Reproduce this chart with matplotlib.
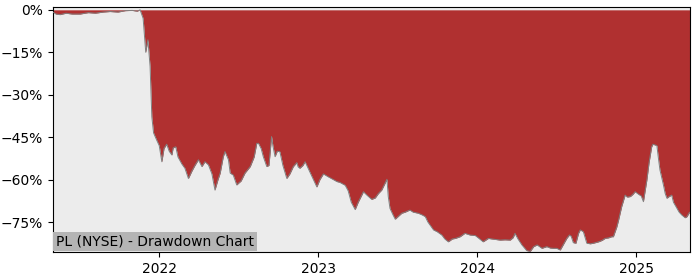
import matplotlib
matplotlib.use("Agg")
import matplotlib.pyplot as plt
import matplotlib.ticker as mticker
import pandas as pd

title_text = "PL (NYSE) - Drawdown Chart"

dates = [
    "2021-05-02", "2021-05-09", "2021-05-18", "2021-06-01", "2021-06-15", "2021-07-03",
    "2021-07-22", "2021-08-07", "2021-08-25", "2021-09-10", "2021-09-28", "2021-10-15",
    "2021-10-31", "2021-11-11", "2021-11-18", "2021-11-25", "2021-12-01", "2021-12-06",
    "2021-12-11", "2021-12-15", "2021-12-19", "2021-12-26", "2022-01-01", "2022-01-07",
    "2022-01-12", "2022-01-18", "2022-01-24", "2022-01-30", "2022-02-02", "2022-02-08",
    "2022-02-13", "2022-02-22", "2022-03-01", "2022-03-09", "2022-03-17", "2022-03-24",
    "2022-04-01", "2022-04-09", "2022-04-16", "2022-04-24", "2022-05-02", "2022-05-09",
    "2022-05-16", "2022-05-21", "2022-05-28", "2022-06-01", "2022-06-09", "2022-06-13",
    "2022-06-20", "2022-06-28", "2022-07-02", "2022-07-08", "2022-07-17", "2022-07-29",
    "2022-08-07", "2022-08-13", "2022-08-17", "2022-08-23", "2022-08-28", "2022-09-05",
    "2022-09-10", "2022-09-16", "2022-09-19", "2022-09-24", "2022-09-29", "2022-10-05",
    "2022-10-12", "2022-10-21", "2022-10-28", "2022-11-05", "2022-11-13", "2022-11-16",
    "2022-11-20", "2022-11-27", "2022-12-02", "2022-12-09", "2022-12-18", "2022-12-29",
    "2023-01-05", "2023-01-13", "2023-01-24", "2023-02-05", "2023-02-13", "2023-02-20",
    "2023-03-04", "2023-03-11", "2023-03-18", "2023-03-27", "2023-04-03", "2023-04-15",
    "2023-04-23", "2023-05-04", "2023-05-12", "2023-05-19", "2023-05-27", "2023-06-03",
    "2023-06-08", "2023-06-11", "2023-06-15", "2023-06-22", "2023-06-27", "2023-07-04",
    "2023-07-12", "2023-07-20", "2023-07-27", "2023-07-31", "2023-08-07", "2023-08-19",
    "2023-08-28", "2023-09-04", "2023-09-10", "2023-09-23", "2023-10-01", "2023-10-12",
    "2023-10-19", "2023-10-27", "2023-11-05", "2023-11-12", "2023-11-23", "2023-12-04",
    "2023-12-16", "2023-12-28", "2024-01-03", "2024-01-15", "2024-01-27", "2024-02-04",
    "2024-02-14", "2024-02-23", "2024-03-05", "2024-03-17", "2024-03-24", "2024-03-28",
    "2024-04-04", "2024-04-13", "2024-04-24", "2024-05-02", "2024-05-10", "2024-05-18",
    "2024-05-29", "2024-06-09", "2024-06-17", "2024-06-24", "2024-07-02", "2024-07-10",
    "2024-07-17", "2024-07-25", "2024-07-31", "2024-08-04", "2024-08-09", "2024-08-15",
    "2024-08-21", "2024-08-25", "2024-09-01", "2024-09-09", "2024-09-17", "2024-09-24",
    "2024-10-06", "2024-10-14", "2024-10-21", "2024-10-29", "2024-11-05", "2024-11-09",
    "2024-11-17", "2024-11-21", "2024-11-28", "2024-12-06", "2024-12-11", "2024-12-18",
    "2024-12-24", "2024-12-29", "2025-01-06", "2025-01-12", "2025-01-17", "2025-01-25",
    "2025-01-30", "2025-02-05", "2025-02-08", "2025-02-13", "2025-02-17", "2025-02-20",
    "2025-02-24", "2025-03-04", "2025-03-08", "2025-03-12", "2025-03-17", "2025-03-23",
    "2025-03-27", "2025-04-04", "2025-04-09", "2025-04-15", "2025-04-23", "2025-04-27",
    "2025-05-02", "2025-05-04",
]

drawdown_pct = [
    -0.8, -1.5, -1.7, -1.2, -1.5, -1.5,
    -1.0, -1.2, -0.8, -0.6, -0.8, -0.3,
    -0.2, -0.5, 0.0, -3.0, -15.0, -10.6,
    -20.0, -37.8, -43.5, -46.0, -48.0, -53.7,
    -49.0, -47.5, -50.0, -51.3, -48.8, -48.4,
    -52.0, -54.5, -56.0, -59.6, -57.0, -55.0,
    -53.0, -55.4, -53.7, -54.8, -58.0, -63.7,
    -60.0, -57.7, -52.0, -50.1, -53.0, -57.7,
    -58.4, -61.9, -61.3, -60.5, -57.7, -55.4,
    -52.0, -47.2, -47.2, -49.0, -51.9, -55.4,
    -55.0, -44.8, -48.0, -51.9, -50.0, -50.1,
    -55.0, -59.6, -58.0, -55.4, -54.0, -55.5,
    -56.0, -55.0, -53.7, -56.0, -59.0, -62.6,
    -60.0, -58.0, -59.0, -60.0, -60.7, -61.0,
    -62.0, -64.0, -68.0, -70.6, -68.0, -64.3,
    -65.5, -67.0, -66.5, -65.0, -63.7, -61.5,
    -59.9, -66.0, -70.2, -72.5, -74.0, -73.0,
    -71.9, -71.5, -71.0, -70.8, -71.5, -71.9,
    -72.5, -73.1, -75.0, -77.8, -78.4, -79.6,
    -81.0, -82.0, -81.0, -80.8, -80.2, -79.0,
    -79.6, -79.8, -80.5, -82.0, -80.8, -81.0,
    -81.2, -81.4, -81.3, -81.4, -80.5, -79.0,
    -81.0, -83.1, -85.1, -85.4, -83.7, -83.1,
    -84.3, -83.7, -84.2, -84.3, -84.3, -84.9,
    -83.0, -80.8, -79.6, -80.0, -82.3, -82.5,
    -79.0, -77.8, -78.4, -82.5, -82.7, -82.5,
    -82.0, -81.5, -80.8, -80.6, -80.2, -80.2,
    -76.7, -74.3, -69.6, -65.5, -66.2, -66.0,
    -65.2, -64.3, -65.2, -65.8, -67.8, -60.1,
    -54.0, -48.4, -47.5, -47.8, -48.0, -51.9,
    -56.6, -61.9, -64.9, -66.6, -66.0, -65.5,
    -68.0, -70.2, -71.5, -72.5, -73.5, -73.1,
    -71.8, -71.5,
]

y_ticks = [0, -15, -30, -45, -60, -75]
x_tick_labels = ["2022", "2023", "2024", "2025"]

x = pd.to_datetime(dates)

fig = plt.figure(figsize=(7, 2.8), dpi=100)
ax = fig.add_axes([0.0757, 0.1, 0.91, 0.875])
ax.set_facecolor("#ececec")
ax.fill_between(x, 0, drawdown_pct, color="#b03030", linewidth=0, zorder=2)
ax.plot(x, drawdown_pct, color="#808080", linewidth=0.7, zorder=3)

ax.set_xlim(x[0], x[-1])
ax.set_ylim(-85.6, 1.0)
ax.set_yticks(y_ticks)
ax.yaxis.set_major_formatter(mticker.PercentFormatter(xmax=100, decimals=0))
ax.set_xticks(pd.to_datetime([f"{t}-01-01" for t in x_tick_labels]))
ax.set_xticklabels(x_tick_labels)
ax.tick_params(labelsize=10)

ax.annotate(title_text, xy=(0, 0), xycoords="axes fraction",
            xytext=(2.2, 2.6), textcoords="offset points",
            fontsize=10, ha="left", va="bottom", zorder=5,
            bbox=dict(facecolor="#b4b4b4", edgecolor="none", pad=2))

fig.savefig("out.png", dpi=100)
